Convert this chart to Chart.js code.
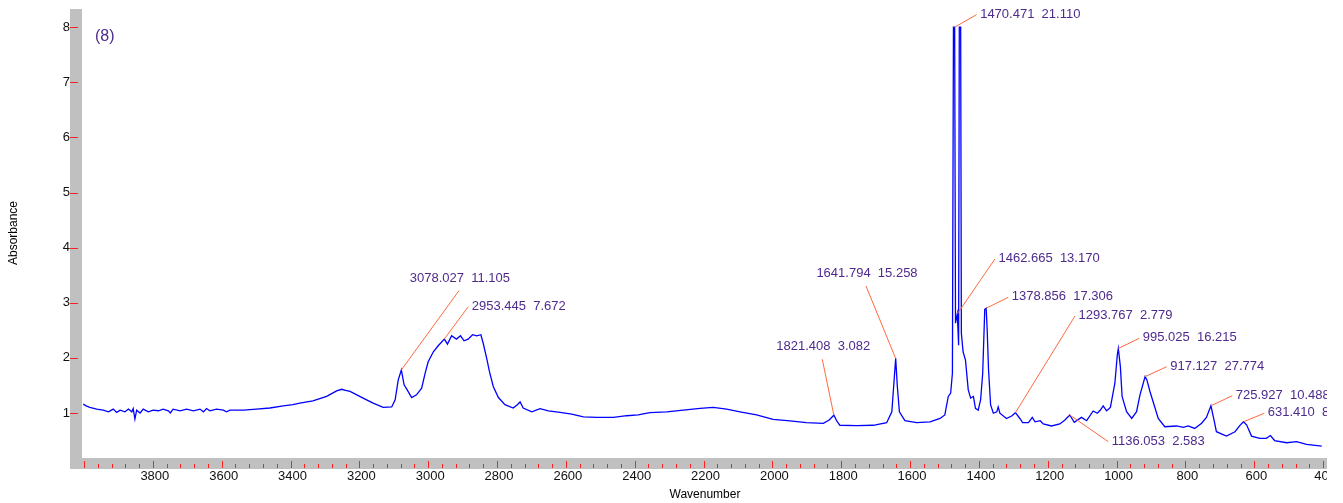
<!DOCTYPE html>
<html>
<head>
<meta charset="utf-8">
<title>Spectrum (8)</title>
<script src="https://cdn.jsdelivr.net/npm/chart.js@4.4.1/dist/chart.umd.min.js"></script>
<style>
    html, body { margin: 0; padding: 0; background: #fff; }
    #wrap { width: 1343px; height: 503px; position: relative; }
</style>
</head>
<body>
<div id="wrap"><canvas id="spectrumChart"></canvas></div>
<script>
// IR spectrum (8) - absorbance vs wavenumber, peak picks with leader lines

const wavenumbers = [
    4002, 3994, 3983, 3963, 3944, 3929, 3915, 3905, 3895, 3881, 3871, 3861, 3857, 3852, 3847, 3837,
    3828, 3813, 3799, 3784, 3770, 3755, 3749, 3741, 3721, 3702, 3682, 3663, 3653, 3644, 3634, 3615,
    3595, 3586, 3576, 3537, 3499, 3460, 3421, 3393, 3373, 3335, 3295, 3266, 3251, 3240, 3227, 3189,
    3160, 3131, 3106, 3096, 3087, 3078, 3070, 3061, 3048, 3034, 3019, 3009, 3000, 2985, 2971, 2953,
    2944, 2932, 2918, 2906, 2896, 2884, 2871, 2859, 2847, 2840, 2830, 2822, 2811, 2796, 2777, 2753,
    2741, 2733, 2724, 2699, 2675, 2651, 2617, 2583, 2549, 2510, 2462, 2423, 2390, 2356, 2307, 2259,
    2210, 2172, 2133, 2094, 2046, 1998, 1949, 1901, 1852, 1835, 1821.4, 1813, 1804, 1755, 1707, 1668,
    1653, 1647, 1641.8, 1637, 1631, 1615, 1581, 1542, 1513, 1499, 1489, 1482, 1477, 1474, 1470.5, 1468,
    1462.7, 1459, 1457, 1453, 1451, 1446, 1439, 1431, 1424, 1416, 1410, 1402, 1395, 1389, 1383, 1378.9,
    1376, 1372, 1366, 1358, 1348, 1344, 1339, 1320, 1305, 1293.8, 1281, 1273, 1256, 1245, 1237, 1222,
    1213, 1189, 1165, 1150, 1136, 1123, 1102, 1087, 1068, 1056, 1047, 1039, 1029, 1018, 1005, 998,
    995, 989, 984, 971, 956, 942, 932, 917.1, 912, 903, 891, 879, 860, 826, 806, 792,
    773, 753, 739, 725.9, 717, 710, 681, 656, 641, 631.4, 622, 608, 584, 565, 553, 541,
    506, 477, 448, 404
];
const absorbance = [
    1.16, 1.13, 1.10, 1.07, 1.05, 1.02, 1.07, 1.01, 1.05, 1.02, 1.07, 1.02, 1.08, 0.89, 1.05, 1.00,
    1.07, 1.02, 1.05, 1.04, 1.07, 1.04, 1.00, 1.07, 1.04, 1.07, 1.04, 1.07, 1.02, 1.08, 1.04, 1.07,
    1.05, 1.02, 1.05, 1.05, 1.07, 1.09, 1.13, 1.15, 1.18, 1.22, 1.30, 1.40, 1.43, 1.41, 1.39, 1.27,
    1.18, 1.10, 1.11, 1.24, 1.60, 1.78, 1.51, 1.42, 1.28, 1.33, 1.45, 1.72, 1.93, 2.11, 2.22, 2.34,
    2.25, 2.40, 2.34, 2.40, 2.31, 2.34, 2.42, 2.40, 2.42, 2.26, 1.99, 1.75, 1.48, 1.28, 1.15, 1.09,
    1.15, 1.20, 1.09, 1.02, 1.08, 1.04, 1.01, 0.98, 0.93, 0.92, 0.92, 0.95, 0.965, 1.005, 1.02, 1.05,
    1.085, 1.10, 1.07, 1.02, 0.965, 0.885, 0.855, 0.824, 0.813, 0.873, 0.96, 0.855, 0.777, 0.77, 0.777, 0.824,
    1.02, 1.54, 1.99, 1.48, 1.02, 0.86, 0.824, 0.84, 0.90, 0.965, 1.30, 1.36, 1.72, 8.0, 8.0, 2.63,
    2.80, 2.23, 8.0, 8.0, 2.45, 2.11, 1.96, 1.42, 1.27, 1.30, 1.085, 1.05, 1.24, 1.72, 2.88, 2.90,
    2.51, 1.78, 1.145, 0.995, 1.02, 1.11, 0.995, 0.90, 0.945, 1.005, 0.90, 0.824, 0.824, 0.92, 0.84, 0.86,
    0.80, 0.764, 0.80, 0.873, 0.964, 0.83, 0.92, 0.86, 1.036, 0.995, 1.054, 1.127, 1.04, 1.10, 1.54, 2.05,
    2.17, 1.84, 1.30, 1.024, 0.90, 1.024, 1.33, 1.66, 1.60, 1.39, 1.145, 0.90, 0.75, 0.764, 0.74, 0.764,
    0.72, 0.813, 0.92, 1.13, 0.873, 0.66, 0.58, 0.66, 0.78, 0.84, 0.78, 0.58, 0.54, 0.54, 0.59, 0.50,
    0.46, 0.48, 0.43, 0.40
];

// picked peaks: position, absorbance at the pick, second number printed beside it
const peakWavenumbers = [3078.027, 2953.445, 1821.408, 1641.794, 1470.471, 1462.665, 1378.856,
    1293.767, 1136.053, 995.025, 917.127, 725.927, 631.410];
const peakAbsorbance = [1.78, 2.34, 0.96, 1.99, 8.0, 2.80, 2.90, 1.005, 0.964, 2.17, 1.66, 1.13, 0.84];
const peakValues = ['11.105', '7.672', '3.082', '15.258', '21.110', '13.170', '17.306',
    '2.779', '2.583', '16.215', '27.774', '10.488', '8.412'];

const yTickValues = [1, 2, 3, 4, 5, 6, 7, 8];
const xLabelValues = [3800, 3600, 3400, 3200, 3000, 2800, 2600, 2400, 2200, 2000,
    1800, 1600, 1400, 1200, 1000, 800, 600, 400];

// leader line end relative to the peak (px), and how the label hangs off it
const labelLayout = [
    { dx: 57.6, dy: -79.3, mode: 'above' },
    { dx: 24.1, dy: -32.5, mode: 'right' },
    { dx: -11.6, dy: -55.9, mode: 'above' },
    { dx: -29.7, dy: -72.4, mode: 'above' },
    { dx: 22, dy: -12.6, mode: 'right' },
    { dx: 37.6, dy: -54.8, mode: 'right' },
    { dx: 22.1, dy: -11, mode: 'right' },
    { dx: 59.5, dy: -96.7, mode: 'right' },
    { dx: 38.5, dy: 26.7, mode: 'right' },
    { dx: 21, dy: -10.2, mode: 'right' },
    { dx: 21.6, dy: -9.9, mode: 'right' },
    { dx: 21.3, dy: -10.1, mode: 'right' },
    { dx: 20.8, dy: -8.5, mode: 'right' }
];

const FONT = 'Arial, "Liberation Sans", sans-serif';
const LABEL_COLOR = '#4e2a8e';
const LEADER_COLOR = '#ff6a40';
const TICK_RED = '#ff2020';
const BAND_GRAY = '#c0c0c0';

function hline(ctx, x1, x2, y) {
    ctx.beginPath();
    ctx.moveTo(x1, y);
    ctx.lineTo(x2, y);
    ctx.stroke();
}

function vline(ctx, x, y1, y2) {
    ctx.beginPath();
    ctx.moveTo(x, y1);
    ctx.lineTo(x, y2);
    ctx.stroke();
}

const framePlugin = {
    id: 'frame',
    beforeDraw(chart) {
        const { ctx, chartArea: a, scales } = chart;
        ctx.save();
        ctx.fillStyle = '#fff';
        ctx.fillRect(0, 0, chart.width, chart.height);

        // grey L-shaped axis bands
        ctx.fillStyle = BAND_GRAY;
        ctx.fillRect(a.left - 12, a.top, 12, a.bottom - a.top + 11);
        ctx.fillRect(a.left, a.bottom, a.right - a.left, 11);

        ctx.strokeStyle = TICK_RED;
        ctx.lineWidth = 1;
        scales.y.ticks.forEach(t => {
            const py = Math.round(scales.y.getPixelForValue(t.value)) + 0.5;
            hline(ctx, a.left - 12, a.left - 4, py);
        });
        scales.x.ticks.forEach(t => {
            const px = Math.round(scales.x.getPixelForValue(t.value)) + 0.5;
            const major = Math.round(t.value) % 200 === 0;
            vline(ctx, px, a.bottom + (major ? 3 : 6), a.bottom + 10);
        });
        ctx.restore();
    },
    afterDraw(chart) {
        const { ctx, scales } = chart;
        ctx.save();

        // peak picks
        ctx.font = '13px ' + FONT;
        ctx.textBaseline = 'middle';
        peakWavenumbers.forEach((wn, i) => {
            const px = scales.x.getPixelForValue(wn);
            const py = scales.y.getPixelForValue(peakAbsorbance[i]);
            const lay = labelLayout[i];
            const ex = px + lay.dx;
            const ey = py + lay.dy;
            ctx.strokeStyle = LEADER_COLOR;
            ctx.lineWidth = 1;
            ctx.beginPath();
            ctx.moveTo(px, py);
            ctx.lineTo(ex, ey);
            ctx.stroke();

            const text = wn.toFixed(3) + '  ' + peakValues[i];
            ctx.fillStyle = LABEL_COLOR;
            if (lay.mode === 'above') {
                ctx.textAlign = 'center';
                ctx.fillText(text, ex + 1, ey - 12.5);
            } else {
                ctx.textAlign = 'left';
                ctx.fillText(text, ex + 3.5, ey - 0.5);
            }
        });

        // sample number
        ctx.font = '16px ' + FONT;
        ctx.textAlign = 'left';
        ctx.fillText('(8)', 95, 37);

        // axis titles
        ctx.fillStyle = '#000';
        ctx.font = '12px ' + FONT;
        ctx.textAlign = 'center';
        ctx.fillText('Wavenumber', 705, 495);
        ctx.translate(14, 233);
        ctx.rotate(-Math.PI / 2);
        ctx.fillText('Absorbance', 0, 0);
        ctx.setTransform(1, 0, 0, 1, 0, 0);

        // everything is clipped at the right edge of the plot
        ctx.fillStyle = '#fff';
        ctx.fillRect(chart.chartArea.right, 0, chart.width - chart.chartArea.right, chart.height);
        ctx.restore();
    }
};

function renderSpectrum() {
    const canvas = document.getElementById('spectrumChart');
    const points = wavenumbers.map((w, i) => ({ x: w, y: absorbance[i] }));

    new Chart(canvas.getContext('2d'), {
        type: 'line',
        data: {
            datasets: [{
                data: points,
                borderColor: '#0000ff',
                borderWidth: 1.3,
                pointRadius: 0,
                tension: 0,
                fill: false
            }]
        },
        options: {
            responsive: true,
            maintainAspectRatio: false,
            animation: false,
            devicePixelRatio: 1,
            events: [],
            layout: { padding: { top: 9, right: 16, left: 0, bottom: 0 } },
            plugins: {
                legend: { display: false },
                tooltip: { enabled: false }
            },
            scales: {
                x: {
                    type: 'linear',
                    reverse: true,
                    min: 388.7,
                    max: 4005.8,
                    afterFit: scale => {
                        scale.height = 45;
                        scale.paddingLeft = 0;
                        scale.paddingRight = 0;
                    },
                    afterBuildTicks: scale => {
                        const ticks = [];
                        for (let v = 4000; v >= 400; v -= 40) ticks.push({ value: v });
                        scale.ticks = ticks;
                    },
                    grid: { display: false, drawTicks: false },
                    border: { display: false },
                    ticks: {
                        autoSkip: false,
                        maxRotation: 0,
                        minRotation: 0,
                        padding: 11,
                        labelOffset: 2,
                        color: '#111',
                        font: { family: FONT, size: 13 },
                        callback: v => xLabelValues.includes(Math.round(v)) ? String(Math.round(v)) : ''
                    }
                },
                y: {
                    type: 'linear',
                    min: 0.183,
                    max: 8.33,
                    afterFit: scale => {
                        scale.width = 82;
                        scale.paddingTop = 0;
                        scale.paddingBottom = 0;
                    },
                    afterBuildTicks: scale => {
                        scale.ticks = yTickValues.map(v => ({ value: v }));
                    },
                    grid: { display: false, drawTicks: false },
                    border: { display: false },
                    ticks: {
                        padding: 12,
                        color: '#111',
                        font: { family: FONT, size: 13 },
                        callback: v => String(v)
                    }
                }
            }
        },
        plugins: [framePlugin]
    });
}

document.addEventListener('DOMContentLoaded', renderSpectrum);
</script>
</body>
</html>
